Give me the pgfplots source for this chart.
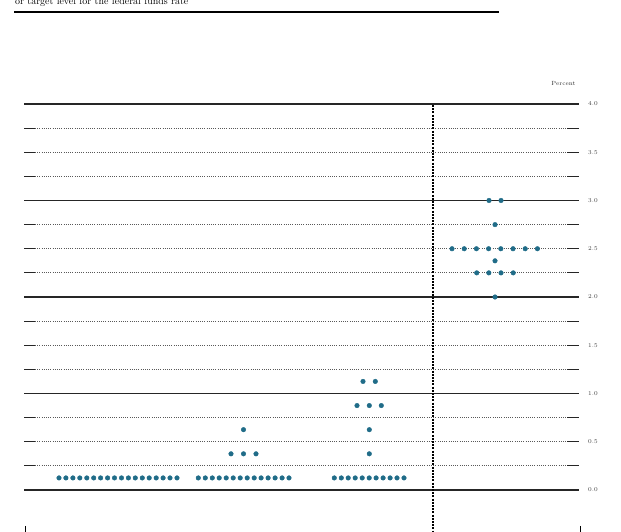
\documentclass[border=0pt]{standalone}
\usepackage{pgfplots}
\pgfplotsset{compat=1.18}
\definecolor{dotc}{RGB}{32,108,136}
\begin{document}
\begin{tikzpicture}[x=1bp,y=1bp]
\useasboundingbox (0,0) rectangle (621,532);
\clip (0,0) rectangle (621,532);
\begin{axis}[at={(0,0)}, anchor=south west, scale only axis,
  width=621bp, height=532bp, xmin=0, xmax=621,
  ymin=-0.43523, ymax=5.07772, hide axis, clip=false]
% header text and rule
\node[anchor=base west, inner sep=0pt, font=\fontsize{10}{12}\selectfont] at (axis cs:15,5.031) {or target level for the federal funds rate};
\draw[line width=1.3bp, black] (axis cs:14,4.9534) -- (axis cs:499,4.9534);
% major gridlines
\pgfplotsinvokeforeach{0,1,2,3,4}{
  \draw[line width=1.1bp, black!85] (axis cs:24,#1) -- (axis cs:579,#1);
}
% minor gridlines
\pgfplotsinvokeforeach{0.25,0.5,0.75,1.25,1.5,1.75,2.25,2.5,2.75,3.25,3.5,3.75}{
  \draw[line width=1.1bp, black!85] (axis cs:24,#1) -- (axis cs:35,#1);
  \draw[line width=0.8bp, black!65, dash pattern=on 0.8bp off 1.4bp] (axis cs:35,#1) -- (axis cs:566,#1);
  \draw[line width=1.1bp, black!85] (axis cs:567,#1) -- (axis cs:579,#1);
}
% right labels
\pgfplotsinvokeforeach{0.0,0.5,1.0,1.5,2.0,2.5,3.0,3.5,4.0}{
  \node[anchor=west, inner sep=0pt, text=black!75, font=\fontsize{6}{7}\selectfont] at (axis cs:588,#1) {\pgfmathprintnumber[fixed,fixed zerofill,precision=1]{#1}};
}
\node[anchor=base, inner sep=0pt, text=black!80, font=\fontsize{6}{7}\selectfont] at (axis cs:563.5,4.1865) {Percent};
% vertical separator
\draw[line width=1.7bp, black, dash pattern=on 2bp off 1.2bp] (axis cs:433,3.99) -- (axis cs:433,-0.45);
% bottom ticks
\draw[line width=1bp, black] (axis cs:25,-0.373) -- (axis cs:25,-0.45);
\draw[line width=1bp, black] (axis cs:580,-0.373) -- (axis cs:580,-0.45);
% dots
\addplot[only marks, mark=*, mark size=2.3bp, color=dotc, mark options={draw=dotc, fill=dotc}] coordinates {
(59.0,0.125) (65.9,0.125) (72.9,0.125) (79.8,0.125) (86.8,0.125) (93.7,0.125) (100.6,0.125) (107.6,0.125) (114.5,0.125)
(121.5,0.125) (128.4,0.125) (135.3,0.125) (142.3,0.125) (149.2,0.125) (156.2,0.125) (163.1,0.125) (170.0,0.125) (177.0,0.125)
};
\addplot[only marks, mark=*, mark size=2.3bp, color=dotc, mark options={draw=dotc, fill=dotc}] coordinates {
(198.3,0.125) (205.3,0.125) (212.3,0.125) (219.2,0.125) (226.2,0.125) (233.2,0.125) (240.2,0.125)
(247.2,0.125) (254.2,0.125) (261.1,0.125) (268.1,0.125) (275.1,0.125) (282.1,0.125) (289.0,0.125)
(231.0,0.375) (243.5,0.375) (256.0,0.375)
(243.5,0.625)
};
\addplot[only marks, mark=*, mark size=2.3bp, color=dotc, mark options={draw=dotc, fill=dotc}] coordinates {
(334.3,0.125) (341.3,0.125) (348.2,0.125) (355.2,0.125) (362.2,0.125) (369.2,0.125)
(376.1,0.125) (383.1,0.125) (390.1,0.125) (397.0,0.125) (404.0,0.125)
(369.3,0.375)
(369.3,0.625)
(357.0,0.875) (369.3,0.875) (381.3,0.875)
(363.0,1.125) (375.3,1.125)
};
\addplot[only marks, mark=*, mark size=2.3bp, color=dotc, mark options={draw=dotc, fill=dotc}] coordinates {
(489.0,3.0) (501.0,3.0)
(495.0,2.75)
(452.0,2.5) (464.2,2.5) (476.4,2.5) (488.6,2.5) (500.8,2.5) (513.0,2.5) (525.2,2.5) (537.4,2.5)
(495.0,2.375)
(476.7,2.25) (488.8,2.25) (501.0,2.25) (513.2,2.25)
(495.0,2.0)
};
\end{axis}
\end{tikzpicture}
\end{document}
